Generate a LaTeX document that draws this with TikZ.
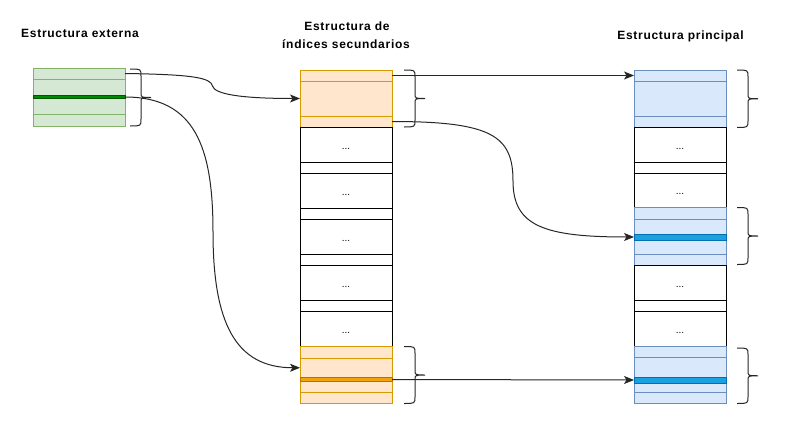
\documentclass[tikz,border=0pt]{standalone}
\usepackage{fontspec}
\setmainfont{Liberation Sans}
\newfontfamily\hdfont[LetterSpace=6]{Liberation Sans}
\usetikzlibrary{arrows.meta}
\definecolor{grnF}{HTML}{D5E8D4}
\definecolor{grnD}{HTML}{82B366}
\definecolor{grnBF}{HTML}{008A00}
\definecolor{grnBD}{HTML}{005700}
\definecolor{orF}{HTML}{FFE6CC}
\definecolor{orD}{HTML}{D79B00}
\definecolor{orBF}{HTML}{F0A30A}
\definecolor{orBD}{HTML}{BD7000}
\definecolor{blF}{HTML}{DAE8FC}
\definecolor{blD}{HTML}{6C8EBF}
\definecolor{blBF}{HTML}{1BA1E2}
\definecolor{blBD}{HTML}{006EAF}
\tikzset{
  cell/.style={draw=black, line width=1pt, inner sep=0pt, outer sep=0pt,
    minimum width=92pt, anchor=north west, font=\fontsize{10}{12}\selectfont},
  wht/.style={cell, fill=white},
  grn/.style={cell, fill=grnF, draw=grnD},
  gband/.style={cell, fill=grnBF, draw=grnBD},
  org/.style={cell, fill=orF, draw=orD},
  oband/.style={cell, fill=orBF, draw=orBD},
  blu/.style={cell, fill=blF, draw=blD},
  bband/.style={cell, fill=blBF, draw=blBD},
  brc/.style={draw=black!85, line width=1pt},
  conn/.style={draw=black!85, line width=1pt, -{Stealth[length=10pt,width=8pt,inset=2.5pt]}},
  head/.style={font=\hdfont\bfseries\fontsize{12}{14}\selectfont, anchor=base, inner sep=0pt}
}
\newcommand\cellbox[5]{\node[#5, minimum height={(#4-#3)*1pt}] (#1) at (#2,#3) {};}
\newcommand\dotbox[4]{\node[wht, minimum height={(#4-#3)*1pt}] (#1) at (#2,#3) {\raisebox{-4.5pt}[0pt][0pt]{...}};}
\newcommand\cbrace[3]{%
  \pgfmathsetmacro\bym{(#2+#3)/2}%
  \draw[brc] (#1,#2) .. controls ({#1+11},#2) .. ({#1+11},{#2+7})
    -- ({#1+11},{\bym-5}) .. controls ({#1+11},\bym) .. ({#1+21},\bym)
    .. controls ({#1+11},\bym) .. ({#1+11},{\bym+5})
    -- ({#1+11},{#3-7}) .. controls ({#1+11},#3) .. (#1,#3);}
\begin{document}
\begin{tikzpicture}[x=1pt,y=-1pt]
\useasboundingbox[fill=white] (0,0) rectangle (798,439);
% headings
\node[head] (hL) at (80,37.5) {Estructura externa};
\node[head] (hM1) at (347,30.7) {Estructura de};
\node[head] (hM2) at (346,48.3) {índices secundarios};
\node[head] (hR) at (680.5,39) {Estructura principal};
% left column
\cellbox{L1}{33}{68}{79}{grn}
\cellbox{L2}{33}{79}{97}{grn}
\cellbox{L3}{33}{97}{114}{grn}
\cellbox{L4}{33}{114}{126}{grn}
\cellbox{Lb}{33}{95.5}{98.5}{gband}
% middle column
\cellbox{M1}{300}{70}{81}{org}
\cellbox{M2}{300}{81}{116}{org}
\cellbox{M3}{300}{116}{127}{org}
\dotbox{W1}{300}{127}{162}
\cellbox{S1}{300}{162}{173}{wht}
\dotbox{W2}{300}{173}{208}
\cellbox{S2}{300}{208}{219}{wht}
\dotbox{W3}{300}{219}{254}
\cellbox{S3}{300}{254}{265}{wht}
\dotbox{W4}{300}{265}{300}
\cellbox{S4}{300}{300}{311}{wht}
\dotbox{W5}{300}{311}{346}
\cellbox{O1}{300}{346}{358}{org}
\cellbox{O2}{300}{358}{377.5}{org}
\cellbox{O3}{300}{381.5}{392}{org}
\cellbox{O4}{300}{392}{403}{org}
\cellbox{Ob}{300}{377.5}{381.5}{oband}
% right column
\cellbox{R1}{634}{70}{81}{blu}
\cellbox{R2}{634}{81}{116}{blu}
\cellbox{R3}{634}{116}{127}{blu}
\dotbox{RW1}{634}{127}{162}
\cellbox{RS1}{634}{162}{173}{wht}
\dotbox{RW2}{634}{173}{207}
\cellbox{B1}{634}{207}{219}{blu}
\cellbox{B2}{634}{219}{234}{blu}
\cellbox{B3}{634}{240}{254}{blu}
\cellbox{B4}{634}{254}{265}{blu}
\cellbox{Bb}{634}{234}{240}{bband}
\dotbox{RW3}{634}{265}{300}
\cellbox{RS2}{634}{300}{311}{wht}
\dotbox{RW4}{634}{311}{346}
\cellbox{C1}{634}{346}{357}{blu}
\cellbox{C2}{634}{357}{377}{blu}
\cellbox{C3}{634}{383}{392}{blu}
\cellbox{C4}{634}{392}{403.5}{blu}
\cellbox{Cb}{634}{377}{383}{bband}
% braces
\cbrace{130}{69}{126}
\cbrace{404}{70}{127}
\cbrace{404}{346.5}{403.5}
\cbrace{737}{70}{127.5}
\cbrace{737}{207.5}{264.5}
\cbrace{737}{348}{403.5}
% connectors
\coordinate (k1) at (212.5,86);
\coordinate (k2) at (213,232);
\coordinate (k4) at (513,181);
\draw[conn] (L1.east) .. controls +(70,1) and +(-2,-8) .. (k1)
  .. controls +(2,8) and +(-60,0) .. (M2.west);
\draw[conn] (Lb.east) .. controls +(70,0) and +(0,-85) .. (k2)
  .. controls +(0,90) and +(-65,0) .. (O2.west);
\draw[conn] (M1.east) -- (R1.west);
\draw[conn] (M3.east) .. controls +(100,0) and +(0,-45) .. (k4)
  .. controls +(0,45) and +(-90,0) .. (Bb.west);
\draw[conn] (Ob.east) -- (Cb.west);
\end{tikzpicture}
\end{document}
